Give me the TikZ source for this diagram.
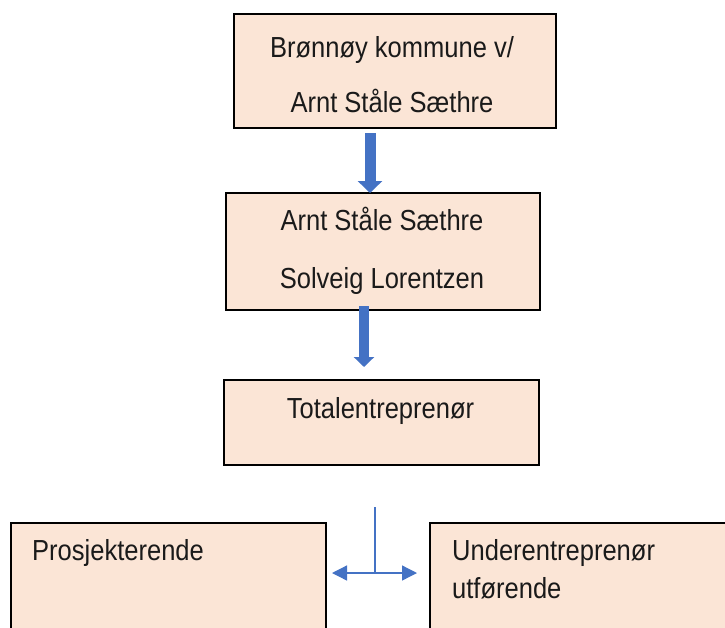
\documentclass[tikz,border=0pt]{standalone}
\usepackage{fontspec}
\setmainfont{Liberation Sans}[FakeStretch=0.88]
\usetikzlibrary{arrows.meta}
\definecolor{boxfill}{HTML}{FBE5D6}
\definecolor{arrblue}{HTML}{4472C4}
\definecolor{txtcol}{HTML}{1A1A1A}
\tikzset{
  box/.style={draw=black, line width=1.5pt, fill=boxfill, rectangle, inner sep=0pt, anchor=north west},
  txt/.style={text=txtcol, font=\fontsize{29}{55}\selectfont, inner sep=0pt, anchor=base},
  fatarrowA/.style={draw=arrblue, line width=11pt, -{Triangle[width=24pt,length=12pt]}},
  fatarrowB/.style={draw=arrblue, line width=10pt, -{Triangle[width=20pt,length=10pt]}},
  thinarrow/.style={draw=arrblue, line width=1.3pt},
  dblarrow/.style={draw=arrblue, line width=1.3pt, {Triangle[width=15pt,length=15pt]}-{Triangle[width=15pt,length=15pt]}}
}
\begin{document}
\begin{tikzpicture}[x=1pt, y=-1pt]
\useasboundingbox (0,0) rectangle (725,627);
\clip (0,0) rectangle (725,627);
% boxes
\node[box, minimum width=322pt, minimum height=114pt] (b1) at (233,13) {};
\node[box, minimum width=314pt, minimum height=117pt] (b2) at (225,192) {};
\node[box, minimum width=315pt, minimum height=85pt] (b3) at (223,379) {};
\node[box, minimum width=315pt, minimum height=140pt] (b4) at (10,522) {};
\node[box, minimum width=330pt, minimum height=140pt] (b5) at (429,522) {};
% texts
\node[txt] (t1a) at (392,57) {Brønnøy kommune v/};
\node[txt] (t1b) at (392,112) {Arnt Ståle Sæthre};
\node[txt] (t2a) at (382,230) {Arnt Ståle Sæthre};
\node[txt] (t2b) at (382,288) {Solveig Lorentzen};
\node[txt] (t3) at (380.5,418) {Totalentreprenør};
\node[txt, anchor=base west] (t4) at (32,560) {Prosjekterende};
\node[txt, anchor=base west] (t5a) at (452,560) {Underentreprenør};
\node[txt, anchor=base west] (t5b) at (452,598) {utførende};
% arrows
\coordinate (a1s) at (370,133);
\coordinate (a1e) at (370,193);
\draw[fatarrowA] (a1s) -- (a1e);
\coordinate (a2s) at (364,306);
\coordinate (a2e) at (364,367);
\draw[fatarrowB] (a2s) -- (a2e);
\coordinate (vt) at (375,507);
\coordinate (vb) at (375,573);
\coordinate (hl) at (332,573);
\coordinate (hr) at (417,573);
\draw[thinarrow] (vt) -- (vb);
\draw[dblarrow] (hl) -- (hr);
\end{tikzpicture}
\end{document}
